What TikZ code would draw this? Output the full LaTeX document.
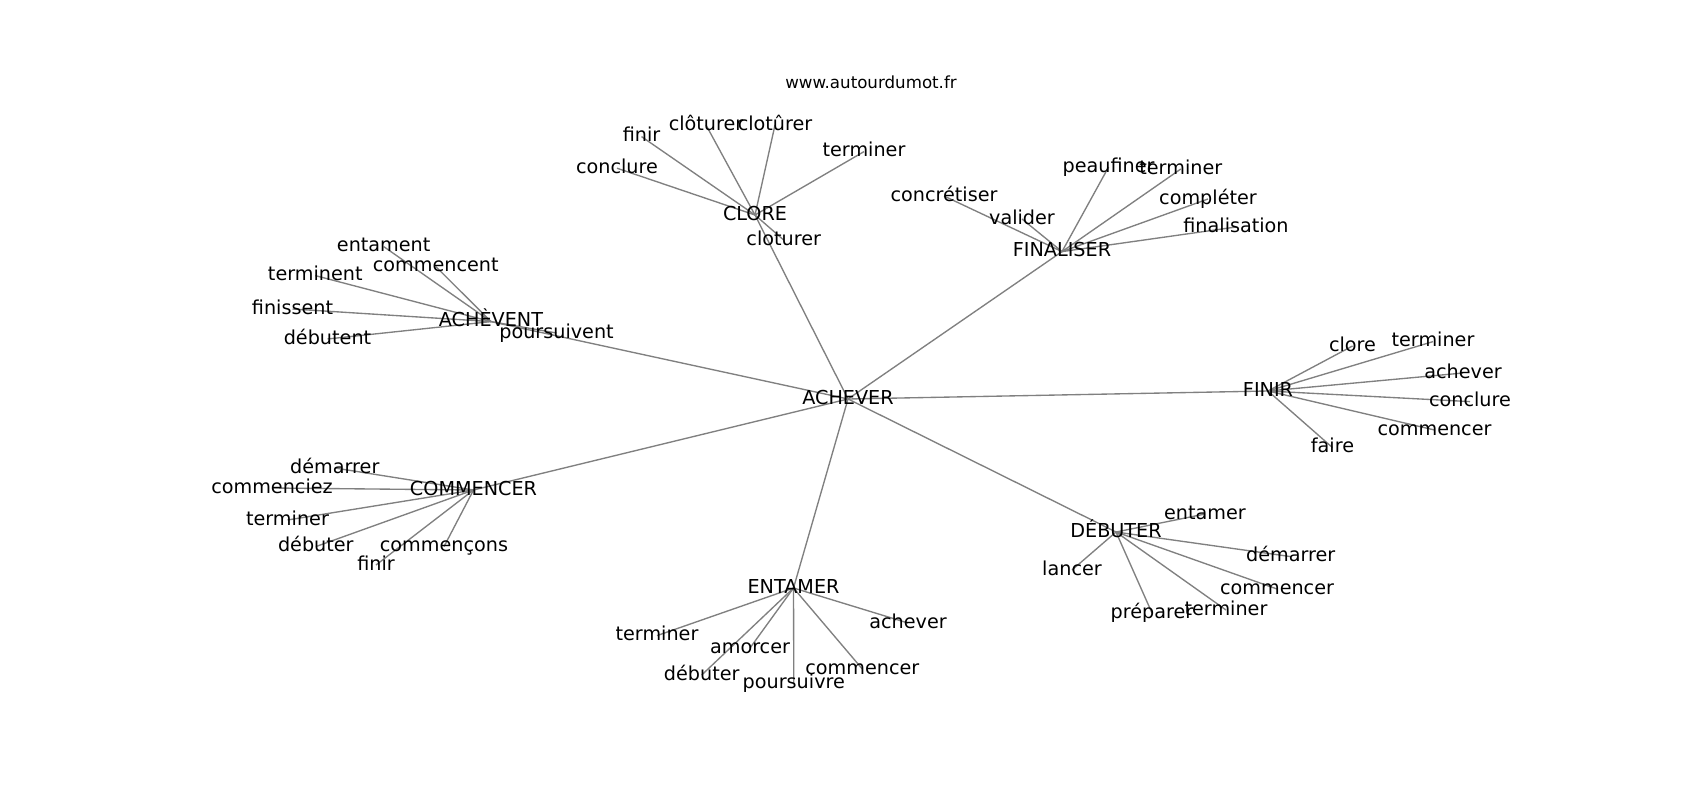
\documentclass[tikz,border=0pt]{standalone}
\usepackage{fontspec}
\setmainfont{DejaVu Sans}
\usetikzlibrary{backgrounds}
\tikzset{
  lbl/.style={inner sep=0pt, outer sep=0pt, text height=14.6pt, text depth=4.6pt, anchor=center, font=\fontsize{19.2}{23}\selectfont, text=black},
  ttl/.style={inner sep=0pt, anchor=base, font=\fontsize{16.67}{20}\selectfont, text=black},
  lnk/.style={draw=gray, line width=1.35pt}
}
\begin{document}
\begin{tikzpicture}[x=1pt,y=-1pt]
\useasboundingbox (0,0) rectangle (1700,800);
\node[ttl] (title) at (871,88.3) {www.autourdumot.fr};
% hubs
\node[lbl] (hub) at (848,399) {ACHEVER};
\node[lbl] (clore) at (755,215) {CLORE};
\node[lbl] (finaliser) at (1062,251.6) {FINALISER};
\node[lbl] (finir) at (1268,391) {FINIR};
\node[lbl] (debuter) at (1116,532) {DÉBUTER};
\node[lbl] (entamer) at (793.5,588) {ENTAMER};
\node[lbl] (commencer) at (473.5,490) {COMMENCER};
\node[lbl] (achevent) at (491,321.6) {ACHÈVENT};
% clore leaves
\node[lbl] (c1) at (641.5,136.6) {finir};
\node[lbl] (c2) at (706,125) {clôturer};
\node[lbl] (c3) at (775,125) {clotûrer};
\node[lbl] (c4) at (864,151.6) {terminer};
\node[lbl] (c5) at (617,168.2) {conclure};
\node[lbl] (c6) at (783.7,240) {cloturer};
% finaliser leaves
\node[lbl] (f1) at (1108.6,167) {peaufiner};
\node[lbl] (f2) at (1180.8,169) {terminer};
\node[lbl] (f3) at (944,196) {concrétiser};
\node[lbl] (f4) at (1022,219) {valider};
\node[lbl] (f5) at (1208,199) {compléter};
\node[lbl] (f6) at (1236,227) {finalisation};
% finir leaves
\node[lbl] (n1) at (1352.5,346) {clore};
\node[lbl] (n2) at (1433,341.6) {terminer};
\node[lbl] (n3) at (1463,373) {achever};
\node[lbl] (n4) at (1470,401.6) {conclure};
\node[lbl] (n5) at (1434.5,430) {commencer};
\node[lbl] (n6) at (1332.5,447.6) {faire};
% debuter leaves
\node[lbl] (d1) at (1205,514) {entamer};
\node[lbl] (d2) at (1290.7,556.6) {démarrer};
\node[lbl] (d3) at (1072,570) {lancer};
\node[lbl] (d4) at (1277,589) {commencer};
\node[lbl] (d5) at (1152,613) {préparer};
\node[lbl] (d6) at (1226,610) {terminer};
% entamer leaves
\node[lbl] (e1) at (657,635.6) {terminer};
\node[lbl] (e2) at (908,623) {achever};
\node[lbl] (e3) at (750,648) {amorcer};
\node[lbl] (e4) at (701.7,675) {débuter};
\node[lbl] (e5) at (793.8,683) {poursuivre};
\node[lbl] (e6) at (862.3,669) {commencer};
% commencer leaves
\node[lbl] (m1) at (334.8,468) {démarrer};
\node[lbl] (m2) at (272,488) {commenciez};
\node[lbl] (m3) at (287.5,520) {terminer};
\node[lbl] (m4) at (315.8,546.6) {débuter};
\node[lbl] (m5) at (444,546.6) {commençons};
\node[lbl] (m6) at (376,565) {finir};
% achevent leaves
\node[lbl] (a1) at (383.7,246.6) {entament};
\node[lbl] (a2) at (435.8,266.6) {commencent};
\node[lbl] (a3) at (315.3,275.6) {terminent};
\node[lbl] (a4) at (292.5,309) {finissent};
\node[lbl] (a5) at (327.5,339) {débutent};
\node[lbl] (a6) at (556.5,333) {poursuivent};
\begin{pgfonlayer}{background}
\fill[white] (0,0) rectangle (1700,800);
\foreach \h in {clore,finaliser,finir,debuter,entamer,commencer,achevent}
  \draw[lnk] (hub.center) -- (\h.center);
\foreach \p/\h in {c/clore,f/finaliser,n/finir,d/debuter,e/entamer,m/commencer,a/achevent}
  \foreach \i in {1,...,6}
    \draw[lnk] (\h.center) -- (\p\i.center);
\end{pgfonlayer}
\end{tikzpicture}
\end{document}
